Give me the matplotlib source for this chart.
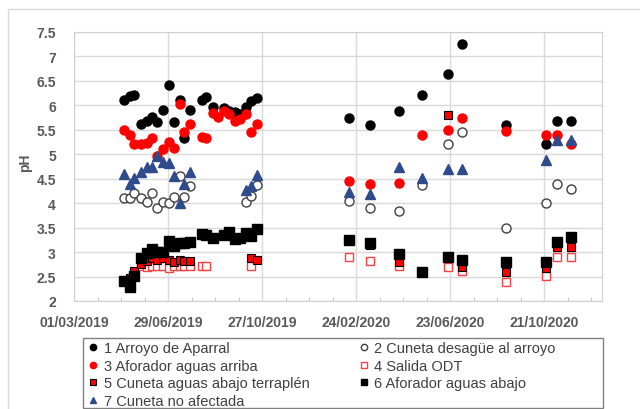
import numpy as np
import pandas as pd
import matplotlib
matplotlib.use("Agg")
import matplotlib.pyplot as plt
import matplotlib.dates as mdates
from matplotlib.lines import Line2D
from matplotlib.patches import Rectangle

plt.rcParams['font.family'] = ['Liberation Sans', 'DejaVu Sans']

# DATOS (fechas de muestreo y pH por punto)
f1 = ['04/05/2019', '11/05/2019', '16/05/2019', '26/05/2019', '02/06/2019', '09/06/2019',
      '15/06/2019', '22/06/2019', '30/06/2019', '07/07/2019', '14/07/2019', '20/07/2019',
      '27/07/2019', '11/08/2019', '17/08/2019', '25/08/2019', '08/09/2019', '15/09/2019',
      '22/09/2019', '29/09/2019', '06/10/2019', '13/10/2019', '20/10/2019',
      '15/02/2020', '13/03/2020', '19/04/2020', '18/05/2020', '21/06/2020', '08/07/2020',
      '02/09/2020', '23/10/2020', '07/11/2020', '25/11/2020']
ph1 = [6.10, 6.20, 6.21, 5.61, 5.69, 5.77, 5.65, 5.91, 6.42, 5.65, 6.11, 5.33,
       5.91, 6.11, 6.17, 5.97, 5.94, 5.88, 5.86, 5.82, 5.97, 6.08, 6.15,
       5.74, 5.60, 5.89, 6.21, 6.64, 7.26, 5.60, 5.20, 5.69, 5.69]

f2 = ['04/05/2019', '11/05/2019', '16/05/2019', '26/05/2019', '02/06/2019', '09/06/2019',
      '15/06/2019', '22/06/2019', '30/06/2019', '07/07/2019', '14/07/2019', '20/07/2019',
      '27/07/2019', '06/10/2019', '13/10/2019', '20/10/2019',
      '15/02/2020', '13/03/2020', '19/04/2020', '18/05/2020', '21/06/2020', '08/07/2020',
      '02/09/2020', '23/10/2020', '07/11/2020', '25/11/2020']
ph2 = [4.10, 4.10, 4.20, 4.10, 4.02, 4.21, 3.90, 4.02, 4.00, 4.12, 4.56, 4.12,
       4.36, 4.02, 4.14, 4.38,
       4.05, 3.90, 3.85, 4.37, 5.20, 5.45, 3.49, 4.00, 4.39, 4.29]

f3 = ['04/05/2019', '11/05/2019', '16/05/2019', '26/05/2019', '02/06/2019', '09/06/2019',
      '15/06/2019', '22/06/2019', '30/06/2019', '07/07/2019', '14/07/2019', '20/07/2019',
      '27/07/2019', '11/08/2019', '17/08/2019', '25/08/2019', '01/09/2019', '08/09/2019',
      '15/09/2019', '22/09/2019', '29/09/2019', '06/10/2019', '13/10/2019', '20/10/2019',
      '15/02/2020', '13/03/2020', '19/04/2020', '18/05/2020', '21/06/2020', '08/07/2020',
      '02/09/2020', '23/10/2020', '07/11/2020', '25/11/2020']
ph3 = [5.50, 5.39, 5.20, 5.20, 5.23, 5.33, 4.97, 5.11, 5.25, 5.12, 6.03, 5.46,
       5.62, 5.36, 5.33, 5.84, 5.77, 5.88, 5.82, 5.69, 5.72, 5.82, 5.46, 5.61,
       4.45, 4.39, 4.41, 5.39, 5.50, 5.74, 5.48, 5.39, 5.39, 5.20]

f4 = ['26/05/2019', '02/06/2019', '09/06/2019', '15/06/2019', '22/06/2019', '30/06/2019',
      '07/07/2019', '14/07/2019', '20/07/2019', '27/07/2019', '11/08/2019', '17/08/2019',
      '13/10/2019',
      '15/02/2020', '13/03/2020', '19/04/2020', '21/06/2020', '08/07/2020',
      '02/09/2020', '23/10/2020', '07/11/2020', '25/11/2020']
ph4 = [2.72, 2.70, 2.72, 2.72, 2.72, 2.67, 2.71, 2.71, 2.71, 2.71, 2.71, 2.72,
       2.71,
       2.89, 2.81, 2.72, 2.69, 2.62, 2.39, 2.51, 2.89, 2.89]

f5 = ['11/05/2019', '16/05/2019', '26/05/2019', '02/06/2019', '09/06/2019', '15/06/2019',
      '22/06/2019', '30/06/2019', '07/07/2019', '14/07/2019', '20/07/2019', '27/07/2019',
      '13/10/2019', '20/10/2019',
      '13/03/2020', '19/04/2020', '21/06/2020', '08/07/2020',
      '02/09/2020', '23/10/2020', '07/11/2020', '25/11/2020']
ph5 = [2.47, 2.62, 2.76, 2.82, 2.88, 2.84, 2.87, 2.84, 2.80, 2.84, 2.82, 2.82,
       2.87, 2.84,
       3.15, 2.79, 5.80, 2.69, 2.60, 2.67, 3.10, 3.10]

f6 = f1
ph6 = [2.40, 2.29, 2.51, 2.88, 2.98, 3.06, 3.00, 3.01, 3.22, 3.12, 3.18, 3.18,
       3.21, 3.37, 3.34, 3.28, 3.34, 3.42, 3.27, 3.28, 3.40, 3.32, 3.47,
       3.25, 3.19, 2.96, 2.60, 2.89, 2.84, 2.79, 2.79, 3.20, 3.30]

f7 = ['04/05/2019', '11/05/2019', '16/05/2019', '26/05/2019', '02/06/2019', '09/06/2019',
      '15/06/2019', '22/06/2019', '30/06/2019', '07/07/2019', '14/07/2019', '20/07/2019',
      '27/07/2019', '06/10/2019', '13/10/2019', '20/10/2019',
      '15/02/2020', '13/03/2020', '19/04/2020', '18/05/2020', '21/06/2020', '08/07/2020',
      '23/10/2020', '07/11/2020', '25/11/2020']
ph7 = [4.60, 4.39, 4.51, 4.63, 4.75, 4.75, 4.97, 4.85, 4.82, 4.56, 4.00, 4.39,
       4.63, 4.26, 4.35, 4.58,
       4.22, 4.19, 4.73, 4.51, 4.70, 4.70, 4.89, 5.30, 5.30]

nombres = ['1 Arroyo de Aparral', '2 Cuneta desagüe al arroyo', '3 Aforador aguas arriba',
           '4 Salida ODT', '5 Cuneta aguas abajo terraplén', '6 Aforador aguas abajo',
           '7 Cuneta no afectada']

# ESTILOS
estilos = [
    dict(marker='o', ms=6.5, mfc='black', mec='black'),
    dict(marker='o', ms=6.5, mfc='white', mec='#404040', mew=1.0),
    dict(marker='o', ms=6.5, mfc='#FF0000', mec='#FF0000'),
    dict(marker='s', ms=6.0, mfc='white', mec='#FF4040', mew=1.0),
    dict(marker='s', ms=6.0, mfc='#FF0000', mec='black', mew=0.8),
    dict(marker='s', ms=6.5, mfc='black', mec='black'),
    dict(marker='^', ms=6.5, mfc='#2F4B8C', mec='#2F4B8C'),
]

fechas = [f1, f2, f3, f4, f5, f6, f7]
valores = [ph1, ph2, ph3, ph4, ph5, ph6, ph7]

fig = plt.figure(figsize=(6.4, 4.1), dpi=100)
ax = fig.add_axes([74/640, 1-302/410, 528/640, 269/410])

lineas = []
for f, v, n, e in zip(fechas, valores, nombres, estilos):
    t = pd.to_datetime(f, format='%d/%m/%Y')
    l, = ax.plot(t, v, ls='none', label=n, **e)
    lineas.append(l)

# EJES
x0 = mdates.date2num(pd.Timestamp('2019-03-01'))
ax.set_xlim(x0, x0 + 674)
ax.set_ylim(2, 7.5)
ax.set_yticks(np.arange(2, 7.51, 0.5))
ax.set_yticklabels(['2', '2.5', '3', '3.5', '4', '4.5', '5', '5.5', '6', '6.5', '7', '7.5'])
ax.set_xticks(x0 + np.arange(0, 674, 120))
ax.set_xticks(x0 + np.arange(0, 674, 30), minor=True)
ax.xaxis.set_major_formatter(mdates.DateFormatter('%d/%m/%Y'))

ax.grid(True, color='#D9D9D9', lw=1.0)
ax.set_axisbelow(True)
for s in ax.spines.values():
    s.set_color('#D0D0D0')
ax.tick_params(axis='y', length=0, pad=13, labelsize=10, labelcolor='#595959')
ax.tick_params(axis='x', which='major', direction='in', length=0, pad=10,
               labelsize=10, labelcolor='#595959')
ax.tick_params(axis='x', which='minor', direction='in', length=3, color='#BFBFBF')
for lab in ax.get_xticklabels() + ax.get_yticklabels():
    lab.set_fontweight('bold')
ax.set_ylabel('pH', fontsize=10, fontweight='bold', color='#595959')
ax.yaxis.set_label_coords(-0.08, 0.517)

# LEYENDA
orden = [0, 2, 4, 6, 1, 3, 5]
leg = fig.legend([lineas[i] for i in orden], [nombres[i] for i in orden], ncol=2,
                 loc='upper left', bbox_to_anchor=(86/640, 1-340/410),
                 fontsize=10.5, markerscale=0.7, handlelength=0.7,
                 handletextpad=0.35, labelspacing=0.24, columnspacing=3.4,
                 borderaxespad=0, frameon=False, borderpad=0.15)
for txt in leg.get_texts():
    txt.set_color('#404040')
fig.add_artist(Rectangle((83/640, 1/410), 520/640, 70/410, transform=fig.transFigure,
                         fill=False, edgecolor='#808080', lw=1))

# BORDE EXTERIOR
fig.add_artist(Line2D([8/640, 8/640, 1], [0, 1-10/410, 1-10/410],
                      transform=fig.transFigure, color='#D9D9D9', lw=1))

fig.savefig('out.png', dpi=100)
